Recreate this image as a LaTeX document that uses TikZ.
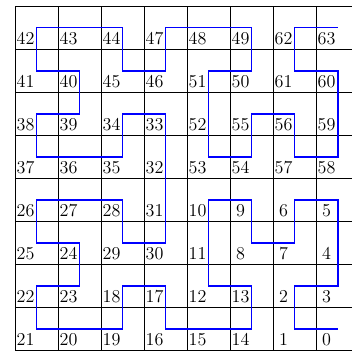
\documentclass[tikz,border=0pt]{standalone}
\usepackage{tikz}
\usetikzlibrary{positioning, calc}

\begin{document}
\begin{tikzpicture}[
    x=1cm, y=1cm,
    every node/.style={font=\large},
    cellnum/.style={anchor=base, inner sep=0pt},
    curve/.style={blue, line width=1.3pt},
    gridline/.style={black, line width=0.5pt},
]

\useasboundingbox (-0.349,0) rectangle (7.837,8.14);

% =========================================================
% 1. Grid (8 x 8 cells)
% =========================================================
\draw[gridline] (0,0) grid (8,8);

% =========================================================
% 2. Cell numbers, top row first
% =========================================================
\foreach \row [count=\j from 0] in {
    {42,43,44,47,48,49,62,63},
    {41,40,45,46,51,50,61,60},
    {38,39,34,33,52,55,56,59},
    {37,36,35,32,53,54,57,58},
    {26,27,28,31,10,9,6,5},
    {25,24,29,30,11,8,7,4},
    {22,23,18,17,12,13,2,3},
    {21,20,19,16,15,14,1,0}}
  \foreach \n [count=\i from 0] in \row {
    \coordinate (c\n) at (\i+0.5, 7.5-\j); % cell centre
    \node[cellnum] (n\n) at (\i+0.245, 7.1-\j) {\n};
  }

% =========================================================
% 3. Curve through the centres, 0 -> 63
% =========================================================
\draw[curve] (c0) \foreach \k in {1,...,63} { -- (c\k) };

\end{tikzpicture}
\end{document}
